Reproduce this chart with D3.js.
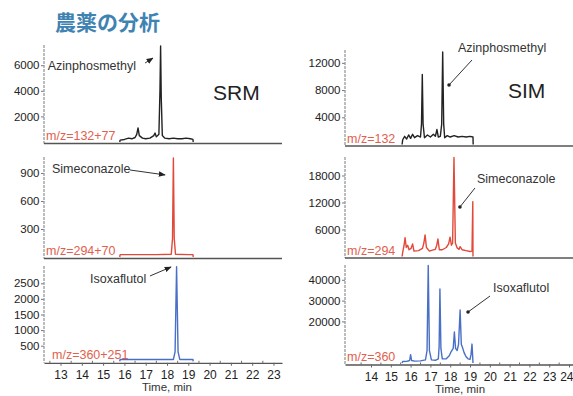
<!DOCTYPE html>
<html>
<head>
<meta charset="utf-8">
<script src="https://cdn.jsdelivr.net/npm/d3@7"></script>
<style>
  body { margin: 0; background: #fff; }
  svg { display: block; font-family: "Liberation Sans", Arial, sans-serif; }
</style>
</head>
<body>
<div id="chartBox"></div>
<script>
// time (min), intensity pairs
var srmAzinphos = [[15.78,0],[15.8,150],[16.0,200],[16.2,300],[16.35,250],[16.5,350],[16.58,600],[16.64,1100],[16.7,500],[16.85,300],[17.0,250],[17.2,300],[17.38,500],[17.44,700],[17.5,400],[17.62,600],[17.67,4000],[17.7,7500],[17.73,3500],[17.78,500],[17.9,300],[18.1,250],[18.3,300],[18.5,250],[18.7,250],[18.9,300],[19.1,250],[19.22,200],[19.23,0]];
var srmSimecon = [[15.78,0],[15.8,25],[16.5,25],[17.5,25],[18.2,30],[18.26,200],[18.3,1060],[18.34,200],[18.4,30],[19.0,25],[19.22,25],[19.23,0]];
var srmIsoxa = [[15.78,0],[15.8,60],[17.0,60],[18.3,60],[18.38,300],[18.45,3030],[18.52,300],[18.6,60],[19.22,60],[19.23,0]];
var simAzinphos = [[15.57,0],[15.6,700],[15.7,1200],[15.8,800],[15.9,1400],[16.0,900],[16.1,1500],[16.2,1000],[16.35,1300],[16.5,1100],[16.55,3000],[16.59,10300],[16.63,3000],[16.7,1000],[16.85,1400],[17.0,1100],[17.15,1500],[17.25,1200],[17.33,2200],[17.4,1100],[17.5,1200],[17.57,3000],[17.62,13600],[17.67,3000],[17.72,1000],[17.85,1300],[18.0,1100],[18.2,1300],[18.4,1100],[18.6,1200],[18.8,1100],[19.0,1200],[19.15,1100],[19.16,0]];
var simSimecon = [[15.57,0],[15.6,900],[15.67,2500],[15.72,4200],[15.78,2000],[15.85,2500],[15.92,1500],[16.02,1800],[16.1,2800],[16.17,1200],[16.4,1300],[16.6,1800],[16.67,3000],[16.73,4800],[16.8,2000],[16.95,1200],[17.1,1400],[17.25,1600],[17.32,2500],[17.38,3900],[17.45,1500],[17.6,1500],[17.8,2000],[17.92,2800],[17.99,4300],[18.06,2500],[18.12,3000],[18.19,22000],[18.26,3000],[18.35,1900],[18.45,1600],[18.5,2200],[18.6,1500],[18.8,1300],[19.0,1100],[19.1,1200],[19.14,12200],[19.15,0]];
var simIsoxa = [[15.57,0],[15.6,700],[15.8,800],[15.95,1200],[16.0,4000],[16.05,1200],[16.2,900],[16.5,1000],[16.75,1500],[16.83,6000],[16.89,46900],[16.95,6000],[17.05,1500],[17.25,1300],[17.4,2000],[17.44,8000],[17.48,35600],[17.53,7000],[17.6,2000],[17.8,2000],[17.95,3500],[18.05,5500],[18.15,7000],[18.21,14900],[18.27,7000],[18.35,6000],[18.42,9000],[18.5,25500],[18.56,9000],[18.62,7500],[18.7,5000],[18.8,3000],[18.9,2000],[19.0,1800],[19.05,4000],[19.1,9100],[19.14,2000],[19.15,0]];

var leftTimeTicks = [13,14,15,16,17,18,19,20,21,22,23];
var rightTimeTicks = [14,15,16,17,18,19,20,21,22,23,24];

var ticksL1 = [2000,4000,6000];
var ticksL2 = [300,600,900];
var ticksL3 = [500,1000,1500,2000,2500];
var ticksR1 = [4000,8000,12000];
var ticksR2 = [6000,12000,18000];
var ticksR3 = [20000,30000,40000];

var ionLabels = ["m/z=132+77","m/z=294+70","m/z=360+251","m/z=132","m/z=294","m/z=360"];
var compounds = ["Azinphosmethyl","Simeconazole","Isoxaflutol","Azinphosmethyl","Simeconazole","Isoxaflutol"];

// label anchor [t, v], pointer from [t, v] to [t, v]
var notePos = [[12.40,5625],[12.60,900],[14.385,2510],[18.39,13600],[19.35,16330],[20.16,34140]];
var noteFrom = [[16.97,6170],[16.26,932],[17.20,2734],[19.10,12420],[19.25,15220],[20.01,32210]];
var noteTo = [[17.34,6560],[17.91,879],[18.19,3022],[17.94,8750],[18.49,10999],[18.90,24520]];

var black = "#222", red = "#e2493a", blue = "#4a6fc6";

var w = 573, h = 396;
var svg = d3.select("#chartBox").append("svg")
  .attr("width", w)
  .attr("height", h);

svg.append("defs").append("marker")
  .attr("id", "head")
  .attr("viewBox", "0 0 10 10")
  .attr("refX", 9).attr("refY", 5)
  .attr("markerWidth", 7).attr("markerHeight", 7)
  .attr("orient", "auto")
  .append("path")
  .attr("d", "M0,1 L10,5 L0,9 Z")
  .attr("fill", "#222");

var xLeft = d3.scaleLinear().domain([12.225, 23.40]).range([44, 282]);
var xRight = d3.scaleLinear().domain([12.687, 24.20]).range([345, 573]);

var panels = [
  { x: xLeft, data: srmAzinphos, ticks: ticksL1, ymax: 7578, y0: 142, y1: 45, color: black, time: false, dot: false },
  { x: xLeft, data: srmSimecon, ticks: ticksL2, ymax: 1071, y0: 257, y1: 157, color: red, time: false, dot: false },
  { x: xLeft, data: srmIsoxa, ticks: ticksL3, ymax: 3054, y0: 361.3, y1: 266, color: blue, time: leftTimeTicks, dot: false },
  { x: xRight, data: simAzinphos, ticks: ticksR1, ymax: 13890, y0: 144.5, y1: 50, color: black, time: false, dot: true },
  { x: xRight, data: simSimecon, ticks: ticksR2, ymax: 22110, y0: 256.5, y1: 157, color: red, time: false, dot: true },
  { x: xRight, data: simIsoxa, ticks: ticksR3, ymax: 47120, y0: 363, y1: 265, color: blue, time: rightTimeTicks, dot: true }
];

panels.forEach(function(p, i) {
  var g = svg.append("g");
  var y = d3.scaleLinear().domain([0, p.ymax]).range([p.y0, p.y1]);
  var xr = p.x.range();
  var base = p.y0 + 1.5;

  // y axis
  var ya = g.append("g")
    .attr("transform", "translate(" + xr[0] + ",0)")
    .call(d3.axisLeft(y).tickValues(p.ticks).tickSize(3).tickSizeOuter(0).tickPadding(1.5).tickFormat(d3.format("d")));
  ya.select(".domain").remove();
  ya.selectAll("line").attr("stroke", "#777");
  ya.selectAll("text")
    .attr("font-size", 11.5)
    .attr("fill", "#222")
    .attr("font-family", "Liberation Sans, Arial, sans-serif");
  g.append("line")
    .attr("x1", xr[0]).attr("x2", xr[0])
    .attr("y1", p.y1).attr("y2", base)
    .attr("stroke", "#999")
    .attr("stroke-width", 1.3)
    .attr("stroke-dasharray", "3,1");

  // bottom line / time axis
  if (p.time) {
    var xa = g.append("g")
      .attr("transform", "translate(0," + base + ")")
      .call(d3.axisBottom(p.x).tickValues(p.time).tickSize(3).tickSizeOuter(0).tickPadding(5).tickFormat(d3.format("d")));
    xa.select(".domain").attr("stroke", "#555").attr("stroke-width", 1.3);
    xa.selectAll("line").attr("stroke", "#666");
    xa.selectAll("text")
      .attr("font-size", 12)
      .attr("fill", "#222")
      .attr("font-family", "Liberation Sans, Arial, sans-serif");
    // keep the last label inside the window
    xa.selectAll(".tick text")
      .filter(function(d) { return p.x(d) > w - 8; })
      .attr("text-anchor", "end")
      .attr("dx", w - p.x(p.time[p.time.length - 1]));
    var minor = d3.range(Math.ceil(p.x.domain()[0] * 2) / 2, p.x.domain()[1], 0.5)
      .filter(function(d) { return d % 1 !== 0; });
    g.selectAll(".minor")
      .data(minor)
      .enter()
      .append("line")
      .attr("x1", function(d) { return p.x(d); })
      .attr("x2", function(d) { return p.x(d); })
      .attr("y1", base - 2)
      .attr("y2", base)
      .attr("stroke", "#666");
    g.append("text")
      .attr("x", (p.x(p.time[0]) + p.x(p.time[p.time.length - 1])) / 2 + (i === 5 ? -10 : 0))
      .attr("y", base + 28)
      .attr("text-anchor", "middle")
      .attr("font-size", 11.5)
      .attr("fill", "#333")
      .text("Time, min");
  } else {
    g.append("line")
      .attr("x1", xr[0]).attr("x2", xr[1])
      .attr("y1", base).attr("y2", base)
      .attr("stroke", "#555")
      .attr("stroke-width", 1.3);
  }

  // trace
  var line = d3.line()
    .x(function(d) { return p.x(d[0]); })
    .y(function(d) { return y(d[1]); });
  g.append("path")
    .datum(p.data)
    .attr("d", line)
    .attr("fill", "none")
    .attr("stroke", p.color)
    .attr("stroke-width", 1.4)
    .attr("stroke-linejoin", "round");

  // ion label
  g.append("text")
    .attr("x", xr[0] + (i === 2 ? 8 : 2))
    .attr("y", p.y0 - 2)
    .attr("font-size", 12.5)
    .attr("fill", "#e2604e")
    .text(ionLabels[i]);

  // compound note
  g.append("text")
    .attr("x", p.x(notePos[i][0]))
    .attr("y", y(notePos[i][1]))
    .attr("font-size", 12.5)
    .attr("fill", "#333")
    .text(compounds[i]);
  var ptr = g.append("line")
    .attr("x1", p.x(noteFrom[i][0])).attr("y1", y(noteFrom[i][1]))
    .attr("x2", p.x(noteTo[i][0])).attr("y2", y(noteTo[i][1]))
    .attr("stroke", "#333")
    .attr("stroke-width", 1);
  if (p.dot) {
    g.append("circle")
      .attr("cx", p.x(noteTo[i][0]))
      .attr("cy", y(noteTo[i][1]))
      .attr("r", 1.8)
      .attr("fill", "#222");
  } else {
    ptr.attr("marker-end", "url(#head)");
  }
});

svg.append("text")
  .attr("x", 55)
  .attr("y", 30)
  .attr("font-family", "Noto Sans CJK JP, sans-serif")
  .attr("font-weight", "bold")
  .attr("font-size", 21)
  .attr("fill", "#3f83b2")
  .text("農薬の分析");

svg.append("text")
  .attr("x", 213)
  .attr("y", 100)
  .attr("font-size", 21)
  .attr("fill", "#222")
  .text("SRM");

svg.append("text")
  .attr("x", 508)
  .attr("y", 98)
  .attr("font-size", 21)
  .attr("fill", "#222")
  .text("SIM");
</script>
</body>
</html>
